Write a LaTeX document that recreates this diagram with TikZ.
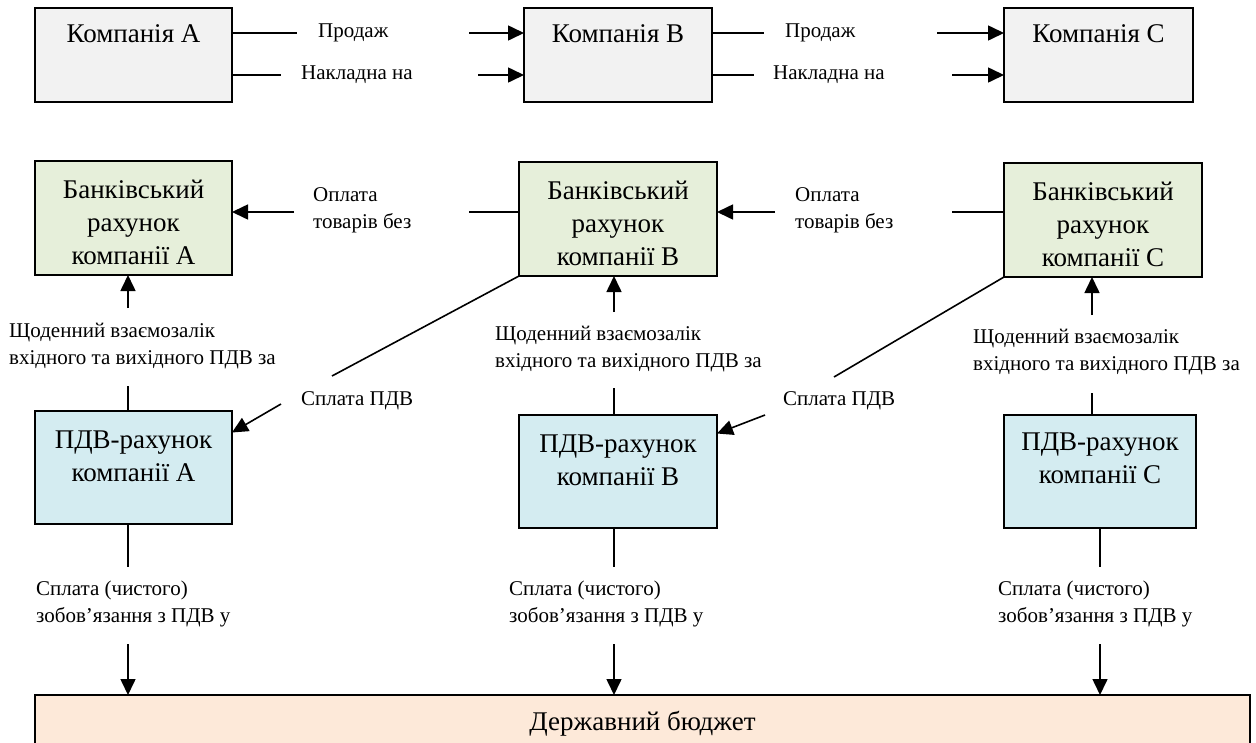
\documentclass[tikz,border=0pt]{standalone}
\usepackage{fontspec}
\setmainfont{Liberation Serif}
\usetikzlibrary{arrows.meta}

\definecolor{firmfill}{HTML}{F2F2F2}
\definecolor{bankfill}{HTML}{E6EFDA}
\definecolor{vatfill}{HTML}{D4ECF1}
\definecolor{budgetfill}{HTML}{FDE9D9}

\tikzset{
  acct/.style={rectangle, draw=black, line width=1.7pt, inner sep=0, outer sep=0},
  boxtext/.style={font=\fontsize{27}{33}\selectfont, align=center, inner sep=0},
  flowtext/.style={font=\fontsize{21}{27}\selectfont, align=left, anchor=west, inner sep=0},
  flow/.style={line width=1.6pt},
  tip/.style={-{Triangle[length=16pt, width=15pt]}, line width=1.6pt}
}

\begin{document}
\begin{tikzpicture}[x=1pt, y=-1pt]
  \useasboundingbox (0,0) rectangle (1256,742);
  \clip (0,0) rectangle (1256,742);

  % companies
  \node[acct, fill=firmfill, minimum width=197pt, minimum height=94pt] (compA) at (133.5,55) {};
  \node[acct, fill=firmfill, minimum width=188pt, minimum height=94pt] (compB) at (618,55) {};
  \node[acct, fill=firmfill, minimum width=189pt, minimum height=94pt] (compC) at (1098.5,55) {};
  \node[boxtext] (compAtext) at ([yshift=21pt]compA.center) {Компанія A};
  \node[boxtext] (compBtext) at ([yshift=21pt]compB.center) {Компанія B};
  \node[boxtext] (compCtext) at ([yshift=21pt]compC.center) {Компанія C};

  % bank accounts
  \node[acct, fill=bankfill, minimum width=197pt, minimum height=114pt] (bankA) at (133.5,218) {};
  \node[acct, fill=bankfill, minimum width=198pt, minimum height=114pt] (bankB) at (618,219) {};
  \node[acct, fill=bankfill, minimum width=198pt, minimum height=114pt] (bankC) at (1103,220) {};
  \node[boxtext] (bankAtext) at ([yshift=-4pt]bankA.center) {Банківський\\рахунок\\компанії A};
  \node[boxtext] (bankBtext) at ([yshift=-4pt]bankB.center) {Банківський\\рахунок\\компанії B};
  \node[boxtext] (bankCtext) at ([yshift=-4pt]bankC.center) {Банківський\\рахунок\\компанії C};

  % VAT accounts
  \node[acct, fill=vatfill, minimum width=197pt, minimum height=113pt] (vatA) at (133.5,467.5) {};
  \node[acct, fill=vatfill, minimum width=198pt, minimum height=113pt] (vatB) at (618,471.5) {};
  \node[acct, fill=vatfill, minimum width=192pt, minimum height=113pt] (vatC) at (1100,471.5) {};
  \node[boxtext] (vatAtext) at ([yshift=11pt]vatA.center) {ПДВ-рахунок\\компанії A};
  \node[boxtext] (vatBtext) at ([yshift=11pt]vatB.center) {ПДВ-рахунок\\компанії B};
  \node[boxtext] (vatCtext) at ([yshift=13pt]vatC.center) {ПДВ-рахунок\\компанії C};

  % budget
  \node[acct, fill=budgetfill, minimum width=1215pt, minimum height=80pt] (budget) at (642.5,735) {};
  \node[boxtext] (budgettext) at ([yshift=-29pt]budget.north) {Державний бюджет};

  % sales and invoices
  \coordinate (saleA) at (297,33);  \coordinate (saleAin) at (469,33);
  \coordinate (invA) at (281,75);   \coordinate (invAin) at (478,75);
  \coordinate (saleB) at (764,33);  \coordinate (saleBin) at (937,33);
  \coordinate (invB) at (754,75);   \coordinate (invBin) at (952,75);
  \draw[flow] (compA.east |- saleA) -- (saleA);
  \node[flowtext] (saleAtext) at (318,33) {Продаж};
  \draw[tip] (saleAin) -- (saleAin -| compB.west);
  \draw[flow] (compA.east |- invA) -- (invA);
  \node[flowtext] (invAtext) at (301,75) {Накладна на};
  \draw[tip] (invAin) -- (invAin -| compB.west);
  \draw[flow] (compB.east |- saleB) -- (saleB);
  \node[flowtext] (saleBtext) at (785,33) {Продаж};
  \draw[tip] (saleBin) -- (saleBin -| compC.west);
  \draw[flow] (compB.east |- invB) -- (invB);
  \node[flowtext] (invBtext) at (773,75) {Накладна на};
  \draw[tip] (invBin) -- (invBin -| compC.west);

  % payments for goods
  \coordinate (payB) at (469,212);  \coordinate (payBin) at (294,212);
  \coordinate (payC) at (952,212);  \coordinate (payCin) at (775,212);
  \draw[flow] (bankB.west |- payB) -- (payB);
  \node[flowtext] (payBtext) at (313,210.5) {Оплата\\товарів без};
  \draw[tip] (payBin) -- (payBin -| bankA.east);
  \draw[flow] (bankC.west |- payC) -- (payC);
  \node[flowtext] (payCtext) at (795,210.5) {Оплата\\товарів без};
  \draw[tip] (payCin) -- (payCin -| bankB.east);

  % daily netting
  \coordinate (netA) at (128,308);   \coordinate (netAout) at (128,386);
  \coordinate (netB) at (614,312);   \coordinate (netBout) at (614,388);
  \coordinate (netC) at (1092,315);  \coordinate (netCout) at (1092,393);
  \draw[tip] (netA) -- (netA |- bankA.south);
  \node[flowtext] (netAtext) at (9,346.5) {Щоденний взаємозалік\\вхідного та вихідного ПДВ за};
  \draw[flow] (netAout) -- (netAout |- vatA.north);
  \draw[tip] (netB) -- (netB |- bankB.south);
  \node[flowtext] (netBtext) at (495,349.5) {Щоденний взаємозалік\\вхідного та вихідного ПДВ за};
  \draw[flow] (netBout) -- (netBout |- vatB.north);
  \draw[tip] (netC) -- (netC |- bankC.south);
  \node[flowtext] (netCtext) at (973,352.5) {Щоденний взаємозалік\\вхідного та вихідного ПДВ за};
  \draw[flow] (netCout) -- (netCout |- vatC.north);

  % VAT payments
  \coordinate (vpB) at (332,376);  \coordinate (vpBin) at (281,404);
  \coordinate (vpC) at (834,377);  \coordinate (vpCin) at (765,415);
  \draw[flow] (bankB.south west) -- (vpB);
  \node[flowtext] (vpBtext) at (301,401) {Сплата ПДВ};
  \draw[tip] (vpBin) -- ([yshift=35pt]vatA.east);
  \draw[flow] (bankC.south west) -- (vpC);
  \node[flowtext] (vpCtext) at (783,401) {Сплата ПДВ};
  \draw[tip] (vpCin) -- ([yshift=38pt]vatB.east);

  % net VAT to budget
  \coordinate (budA) at (128,567);   \coordinate (budAin) at (128,644);
  \coordinate (budB) at (614,567);   \coordinate (budBin) at (614,644);
  \coordinate (budC) at (1100,567);  \coordinate (budCin) at (1100,644);
  \draw[flow] (budA |- vatA.south) -- (budA);
  \node[flowtext] (budAtext) at (36,604) {Сплата (чистого)\\зобов’язання з ПДВ у};
  \draw[tip] (budAin) -- (budAin |- budget.north);
  \draw[flow] (budB |- vatB.south) -- (budB);
  \node[flowtext] (budBtext) at (509,604) {Сплата (чистого)\\зобов’язання з ПДВ у};
  \draw[tip] (budBin) -- (budBin |- budget.north);
  \draw[flow] (budC |- vatC.south) -- (budC);
  \node[flowtext] (budCtext) at (998,604) {Сплата (чистого)\\зобов’язання з ПДВ у};
  \draw[tip] (budCin) -- (budCin |- budget.north);
\end{tikzpicture}
\end{document}
